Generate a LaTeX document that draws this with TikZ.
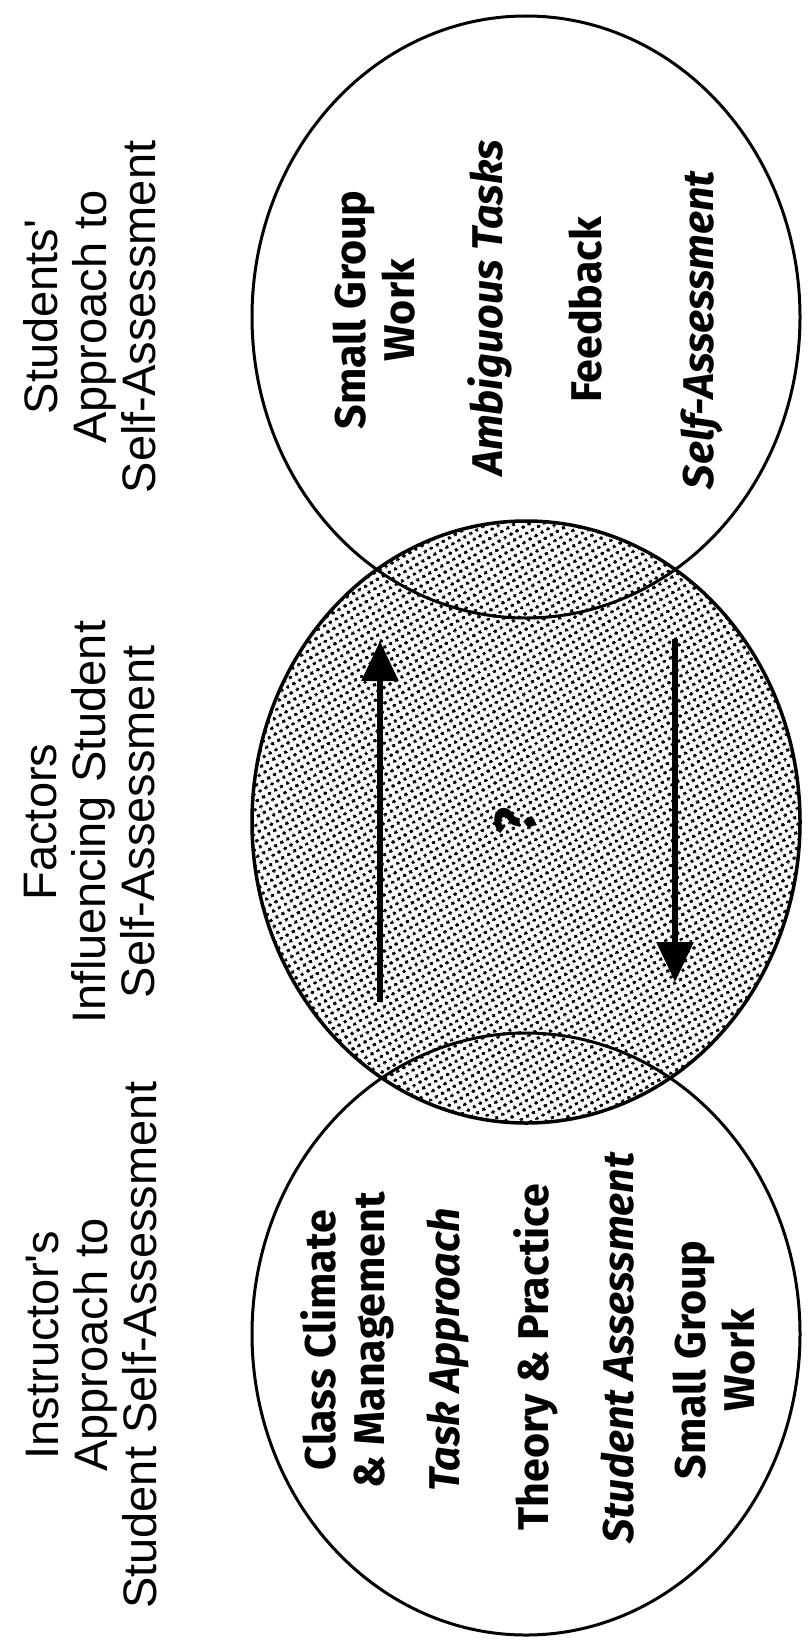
\documentclass[tikz,border=0pt]{standalone}
\usepackage{fontspec}
\setmainfont{Liberation Sans}
\newfontfamily\boxfont{Fira Sans}
\usetikzlibrary{arrows.meta,shapes.geometric,patterns.meta}

\begin{document}
\begin{tikzpicture}[x=1pt,y=-1pt,>={Triangle[length=40pt,width=36pt]},
  ring/.style={ellipse,draw,line width=3pt,minimum width=548pt,minimum height=602pt,inner sep=0pt},
  head/.style={rotate=90,align=center,font=\fontsize{47}{49}\selectfont},
  factor/.style={rotate=90,align=center,font=\boxfont\bfseries\fontsize{43}{49}\selectfont},
  factorit/.style={factor,font=\boxfont\bfseries\itshape\fontsize{43}{49}\selectfont}]
\useasboundingbox (0,0) rectangle (808,1648);
\node[ring,line width=3.5pt,pattern={Dots[distance=6.5pt,radius=1.9pt,angle=30]}] (factors) at (526,822) {};
\node[ring] (students) at (526,317) {};
\node[ring] (instructor) at (526,1334) {};

\node[head] (tstud) at (90,317) {Students\textquotesingle\\Approach to\\Self-Assessment};
\node[head] (tfact) at (90,822) {Factors\\Influencing Student\\Self-Assessment};
\node[head] (tinst) at (92,1345) {Instructor\textquotesingle s\\Approach to\\Student Self-Assessment};

\node[factor] (sgwork) at (374,310) {Small Group\\Work};
\node[factorit] (ambig) at (490,308) {Ambiguous Tasks};
\node[factor] (feedb) at (586,310) {Feedback};
\node[factorit] (selfas) at (702,330) {Self-Assessment};

\node[factor] (climate) at (347,1340) {Class Climate\\\& Management};
\node[factorit] (task) at (448,1350) {Task Approach};
\node[factor] (theory) at (536,1357) {Theory \& Practice};
\node[factorit] (sassess) at (618,1348) {Student Assessment};
\node[factor] (sgwork2) at (714,1360) {Small Group\\Work};

\node[factor,font=\boxfont\bfseries\fontsize{56}{60}\selectfont] (query) at (515,821) {?};

\coordinate (uptail) at (380,1002);
\coordinate (uptip) at (380,641);
\coordinate (downtail) at (675,639);
\coordinate (downtip) at (675,982);
\draw[->,line width=6pt] (uptail) -- (uptip);
\draw[->,line width=6pt] (downtail) -- (downtip);
\end{tikzpicture}
\end{document}
